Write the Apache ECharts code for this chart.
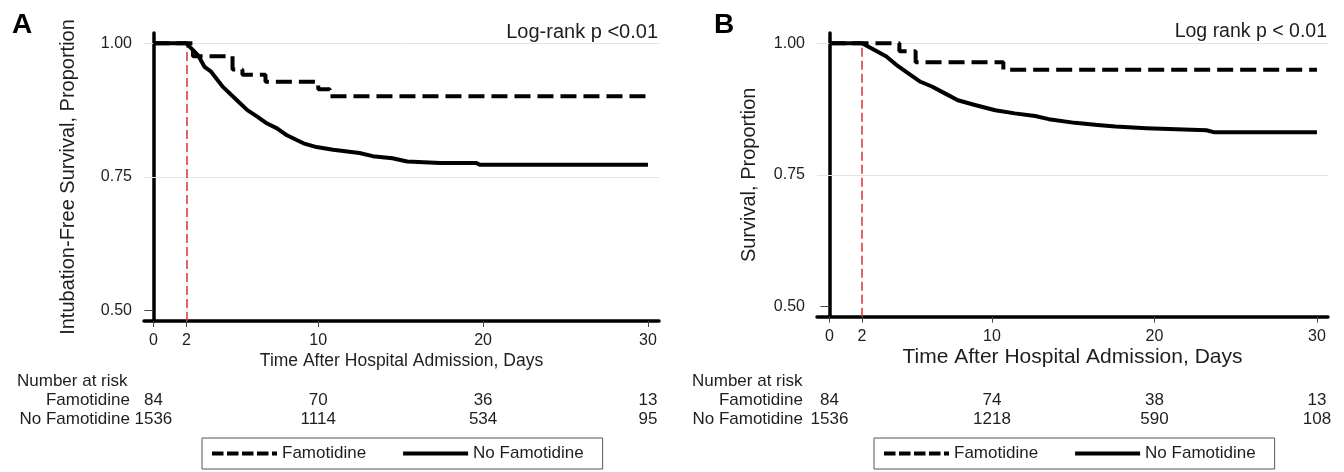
<!DOCTYPE html>
<html>
<head>
<meta charset="utf-8">
<script src="https://cdn.jsdelivr.net/npm/echarts@6/dist/echarts.min.js"></script>
<style>
  html, body { margin: 0; padding: 0; background: #fff; }
  #chart { width: 1344px; height: 472px; }
</style>
</head>
<body>
<div id="chart"></div>
<script>
// axis ticks
const xTicks = [0, 2, 10, 20, 30];
const yTicks = [0.5, 0.75, 1.0];
const gridValues = [0.75, 1.0];
const cutoffDay = 2;

// panel A: intubation-free survival
const famA_t = [0, 2.4, 4.8, 5.4, 6.8, 10.0, 10.7, 30];
const famA_s = [1.000, 0.976, 0.951, 0.941, 0.928, 0.914, 0.901, 0.901];
const noA_t = [0, 2.0, 2.7, 3.1, 3.5, 4.2, 5.05, 5.7, 6.3, 6.9, 7.5, 8.1, 9.1, 9.9, 10.9, 12.5, 13.3, 14.5, 15.4, 17.4, 19.6, 19.8, 30];
const noA_s = [1.000, 1.000, 0.978, 0.956, 0.947, 0.919, 0.894, 0.875, 0.863, 0.850, 0.841, 0.828, 0.813, 0.806, 0.801, 0.795, 0.789, 0.785, 0.779, 0.776, 0.776, 0.773, 0.773];

// panel B: survival
const famB_t = [0, 4.3, 5.3, 10.7, 30];
const famB_s = [1.000, 0.985, 0.964, 0.950, 0.950];
const noB_t = [0, 2.0, 2.8, 3.5, 4.2, 4.85, 5.6, 6.3, 7.1, 7.9, 8.95, 10.2, 11.4, 12.65, 13.5, 15.1, 16.5, 17.6, 19.5, 23.2, 23.7, 30];
const noB_s = [1.000, 1.000, 0.987, 0.975, 0.957, 0.943, 0.927, 0.918, 0.905, 0.892, 0.883, 0.873, 0.867, 0.862, 0.856, 0.849, 0.845, 0.842, 0.839, 0.835, 0.831, 0.831];

// number at risk
const riskRows = ['Famotidine', 'No Famotidine'];
const riskDays = [0, 10, 20, 30];
const riskFamA = [84, 70, 36, 13];
const riskNoA = [1536, 1114, 534, 95];
const riskFamB = [84, 74, 38, 13];
const riskNoB = [1536, 1218, 590, 108];

const FONT = '"Liberation Sans", Arial, sans-serif';
const INK = '#1e1e1e';
const CLEAR = 'rgba(0,0,0,0)';

const panels = [
  {
    left: 144, width: 515, top: 33, height: 288,
    xMin: -0.57, xMax: 30.67, yMin: 0.4807, yMax: 1.0193,
    yName: 'Intubation-Free Survival, Proportion', yNameGap: 66,
    xNameSize: 17.5, xNameGap: 31,
    fam: [famA_t, famA_s], no: [noA_t, noA_s], risk: [riskFamA, riskNoA],
    legendLeft: 202
  },
  {
    left: 817, width: 511, top: 33, height: 283.7,
    xMin: -0.77, xMax: 30.68, yMin: 0.481, yMax: 1.0196,
    yName: 'Survival, Proportion', yNameGap: 58,
    xNameSize: 21, xNameGap: 30,
    fam: [famB_t, famB_s], no: [noB_t, noB_s], risk: [riskFamB, riskNoB],
    legendLeft: 874
  }
];

const grid = [];
const xAxis = [];
const yAxis = [];
const series = [];
const legend = [];

panels.forEach((p, i) => {
  const plotIdx = i * 2;
  const riskIdx = i * 2 + 1;

  // survival plot
  grid.push({ left: p.left, top: p.top, width: p.width, height: p.height, outerBoundsMode: 'none' });
  xAxis.push({
    gridIndex: plotIdx, type: 'value', min: p.xMin, max: p.xMax,
    axisLine: { lineStyle: { color: '#000', width: 3.5 } },
    axisTick: { customValues: xTicks, length: 6, lineStyle: { color: '#444', width: 1 } },
    axisLabel: { customValues: xTicks, margin: 12, fontSize: 16, color: INK, fontFamily: FONT },
    splitLine: { show: false },
    name: 'Time After Hospital Admission, Days', nameLocation: 'middle', nameGap: p.xNameGap,
    nameMoveOverlap: false,
    nameTextStyle: { fontSize: p.xNameSize, color: INK, fontFamily: FONT }
  });
  yAxis.push({
    gridIndex: plotIdx, type: 'value', min: p.yMin, max: p.yMax,
    axisLine: { show: true, lineStyle: { color: '#000', width: 3.5 } },
    axisTick: { show: true, customValues: yTicks, length: 9, lineStyle: { color: '#444', width: 1 } },
    axisLabel: {
      customValues: yTicks, margin: 12, fontSize: 16, color: INK, fontFamily: FONT,
      formatter: v => v.toFixed(2)
    },
    splitLine: { show: false },
    name: p.yName, nameLocation: 'middle', nameGap: p.yNameGap, nameMoveOverlap: false,
    nameTextStyle: { fontSize: 20, color: INK, fontFamily: FONT }
  });

  // number at risk table
  grid.push({ left: p.left, top: 390.5, width: p.width, height: 38, outerBoundsMode: 'none' });
  xAxis.push({ gridIndex: riskIdx, type: 'value', min: p.xMin, max: p.xMax, show: false });
  yAxis.push({
    gridIndex: riskIdx, type: 'category', data: riskRows, inverse: true,
    axisLine: { show: false }, axisTick: { show: false },
    axisLabel: { interval: 0, margin: 14, fontSize: 17, color: INK, fontFamily: FONT },
    splitLine: { show: false }
  });

  // light reference lines at 0.75 and 1.00
  series.push({
    type: 'line', name: 'grid' + i, xAxisIndex: plotIdx, yAxisIndex: plotIdx,
    data: [], silent: true,
    markLine: {
      silent: true, z: 1, symbol: ['none', 'none'], label: { show: false },
      lineStyle: { color: '#dde6eb', width: 1, type: 'solid' },
      data: gridValues.map(v => ({ yAxis: v }))
    }
  });

  series.push({
    type: 'line', name: 'No Famotidine', xAxisIndex: plotIdx, yAxisIndex: plotIdx,
    data: p.no[0].map((t, k) => [t, p.no[1][k]]),
    symbol: 'none', showSymbol: false, silent: true, z: 3,
    lineStyle: { color: '#000', width: 4, join: 'round' },
    itemStyle: { color: '#000' }
  });

  series.push({
    type: 'line', name: 'Famotidine', xAxisIndex: plotIdx, yAxisIndex: plotIdx,
    data: p.fam[0].map((t, k) => [t, p.fam[1][k]]),
    step: 'end', symbol: 'none', showSymbol: false, silent: true, z: 3,
    lineStyle: { color: '#000', width: 4, type: [16, 7], cap: 'butt' },
    itemStyle: { color: '#000' },
    markLine: {
      silent: true, z: 2, symbol: ['none', 'none'], label: { show: false },
      lineStyle: { color: '#e0312f', width: 1.5, type: [9, 4] },
      data: [[{ coord: [cutoffDay, p.yMin] }, { coord: [cutoffDay, 1.0] }]]
    }
  });

  const riskData = [];
  riskRows.forEach((row, r) => {
    riskDays.forEach((d, k) => riskData.push([d, row, p.risk[r][k]]));
  });
  series.push({
    type: 'scatter', name: 'risk' + i, xAxisIndex: riskIdx, yAxisIndex: riskIdx,
    data: riskData, symbolSize: 1, silent: true,
    itemStyle: { color: CLEAR, opacity: 1 },
    label: {
      show: true, position: 'inside', formatter: q => q.value[2],
      fontSize: 17, color: INK, fontFamily: FONT, textBorderWidth: 0, opacity: 1
    }
  });

  // legend icon is the line only; hide the centre marker
  const noMarker = { color: CLEAR, borderColor: CLEAR, borderWidth: 0 };
  legend.push({
    left: p.legendLeft, top: 438, orient: 'horizontal',
    itemWidth: 65, itemHeight: 14, itemGap: 35,
    padding: [7, 19, 7, 8],
    borderColor: '#555', borderWidth: 1, borderRadius: 0,
    selectedMode: false,
    textStyle: { fontSize: 17, color: INK, fontFamily: FONT },
    data: [
      { name: 'Famotidine', itemStyle: noMarker, lineStyle: { type: [11.5, 3.5], width: 4 } },
      { name: 'No Famotidine', itemStyle: noMarker, lineStyle: { type: 'solid', width: 4 } }
    ]
  });
});

const chart = echarts.init(document.getElementById('chart'));
chart.setOption({
  backgroundColor: '#fff',
  animation: false,
  grid, xAxis, yAxis, series, legend,
  graphic: [
    { type: 'text', x: 12, y: 25, style: { text: 'A', fontSize: 28, fontWeight: 'bold', fontFamily: FONT, fill: '#000', verticalAlign: 'middle' } },
    { type: 'text', x: 714, y: 25, style: { text: 'B', fontSize: 28, fontWeight: 'bold', fontFamily: FONT, fill: '#000', verticalAlign: 'middle' } },
    { type: 'text', x: 658, y: 32, style: { text: 'Log-rank p <0.01', fontSize: 20, fontFamily: FONT, fill: INK, align: 'right', verticalAlign: 'middle' } },
    { type: 'text', x: 1327, y: 32, style: { text: 'Log rank p < 0.01', fontSize: 19.5, fontFamily: FONT, fill: INK, align: 'right', verticalAlign: 'middle' } },
    { type: 'text', x: 17, y: 381, style: { text: 'Number at risk', fontSize: 17, fontFamily: FONT, fill: INK, verticalAlign: 'middle' } },
    { type: 'text', x: 692, y: 381, style: { text: 'Number at risk', fontSize: 17, fontFamily: FONT, fill: INK, verticalAlign: 'middle' } }
  ]
});
</script>
</body>
</html>
